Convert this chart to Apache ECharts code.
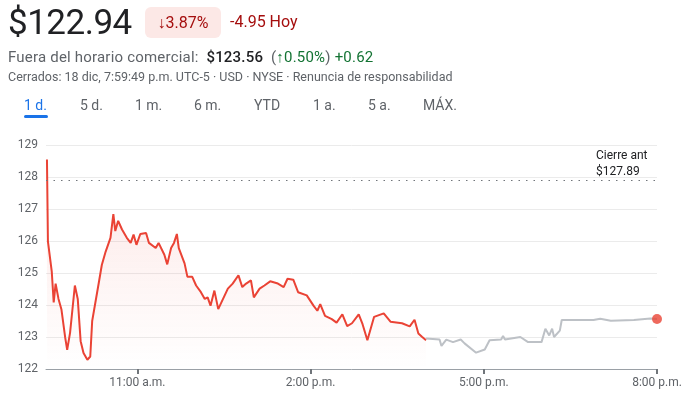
<!DOCTYPE html>
<html><head><meta charset="utf-8">
<script src="https://cdn.jsdelivr.net/npm/echarts@6/dist/echarts.min.js"></script>
<style>
body{margin:0;width:698px;height:410px;font-family:Roboto,Arial,sans-serif;position:relative;overflow:hidden;background:#fff}
#c{position:absolute;left:0;top:0;width:698px;height:410px}
.h{position:absolute;white-space:nowrap}
</style></head><body>
<div id="c"></div>
<div class="h" style="left:8px;top:2px;font-size:35px;color:#202124;letter-spacing:-0.5px">$122.94</div>
<div class="h" style="left:145px;top:7px;width:76px;height:31px;background:#fce8e6;border-radius:6px;color:#a50e0e;font-size:16px;line-height:31px;text-align:center">↓3.87%</div>
<div class="h" style="left:230px;top:12px;font-size:16px;color:#a50e0e">-4.95 Hoy</div>
<div class="h" style="left:8px;top:48px;font-size:15px;color:#5f6368;letter-spacing:0.2px">Fuera del horario comercial:&nbsp; <span style="color:#202124;font-weight:500">$123.56</span>&nbsp; <span style="color:#5f6368">(</span><span style="color:#137333">↑0.50%</span><span style="color:#5f6368">)</span>&nbsp;<span style="color:#137333">+0.62</span></div>
<div class="h" style="left:8px;top:69px;font-size:12.5px;color:#5f6368">Cerrados: 18 dic, 7:59:49 p.m. UTC-5 · USD · NYSE · Renuncia de responsabilidad</div>
<div class="h" style="left:24px;top:97px;font-size:14px;color:#1a73e8">1 d.</div>
<div class="h" style="left:24px;top:115px;width:24px;height:3px;background:#1a73e8;border-radius:2px"></div>
<div class="h" style="left:80px;top:97px;font-size:14px;color:#5f6368">5 d.</div>
<div class="h" style="left:135px;top:97px;font-size:14px;color:#5f6368">1 m.</div>
<div class="h" style="left:194px;top:97px;font-size:14px;color:#5f6368">6 m.</div>
<div class="h" style="left:254px;top:97px;font-size:14px;color:#5f6368">YTD</div>
<div class="h" style="left:313px;top:97px;font-size:14px;color:#5f6368">1 a.</div>
<div class="h" style="left:368px;top:97px;font-size:14px;color:#5f6368">5 a.</div>
<div class="h" style="left:423px;top:97px;font-size:14px;color:#5f6368">MÁX.</div>
<div class="h" style="left:596px;top:147px;font-size:12px;line-height:16px;color:#202124">Cierre ant<br>$127.89</div>
<script>
// minutes since midnight, price
const regularTimes = [566,567,571,573,575,578,581,585,587,590,595,598,601,604,608,611,613,615,620,623,627,632,635,637,640,644,649,653,656,659,663,669,672,679,682,688,691,695,698,701,703,709,712,717,721,726,730,733,736,740,744,749,754,759,765,769,773,778,781,787,792,798,806,812,816,822,827,836,843,847,850,855,862,867,873,878,883,890,894,899,906,916,923,935,943,948,952,956,960];
const regularPrices = [128.55,125.99,125.04,124.08,124.67,124.19,123.87,122.97,122.6,123.13,124.61,124.19,122.87,122.5,122.29,122.39,123.5,123.45,124.72,125.25,125.67,126.1,126.84,126.31,126.63,126.36,126.1,125.94,126.2,125.88,126.22,126.25,125.94,125.78,125.94,125.57,125.27,125.78,125.94,126.22,125.78,125.3,124.88,124.88,124.61,124.4,124.19,124.24,123.98,124.45,123.87,124.19,124.51,124.67,124.93,124.56,124.67,124.77,124.24,124.51,124.61,124.74,124.67,124.56,124.82,124.79,124.4,124.3,123.98,123.82,124.03,123.66,123.56,123.45,123.71,123.34,123.43,123.71,123.40,122.9,123.63,123.74,123.48,123.43,123.33,123.54,123.11,123.0,122.9];
const afterTimes = [960,974,976,981,988,996,1000,1012,1021,1026,1038,1040,1042,1058,1066,1080,1084,1088,1091,1093,1099,1101,1120,1122,1134,1141,1152,1176,1193,1200];
const afterPrices = [122.95,122.92,122.72,122.92,122.84,122.92,122.8,122.51,122.61,122.9,122.92,123.03,122.92,123.0,122.84,122.84,123.26,123.05,123.26,123.0,123.2,123.53,123.53,123.57,123.53,123.57,123.51,123.53,123.58,123.56];
const prevClose = 127.89;
const xTicks = [660,840,1020,1200];
const xTickLabels = ['11:00 a.m.','2:00 p.m.','5:00 p.m.','8:00 p.m.'];

const zip=(a,b)=>a.map((t,i)=>[t,b[i]]);
const chart=echarts.init(document.getElementById('c'));
chart.setOption({
  animation:false,
  grid:{left:46,right:41,top:145,bottom:41},
  xAxis:{type:'value',min:565,max:1200,
    axisLine:{show:true,lineStyle:{color:'#9aa0a6'}},
    axisTick:{show:true,customValues:xTicks,length:5,lineStyle:{color:'#70757a',width:2}},
    axisLabel:{customValues:xTicks,color:'#5f6368',fontSize:12,fontFamily:'Roboto',margin:8,
      formatter:v=>xTickLabels[xTicks.indexOf(v)]},
    splitLine:{show:false}},
  yAxis:{type:'value',min:122,max:129,interval:1,
    axisLabel:{color:'#5f6368',fontSize:12,fontFamily:'Roboto',margin:8},
    axisLine:{show:false},axisTick:{show:false},
    splitLine:{lineStyle:{color:'#ebebeb'}}},
  series:[
    {type:'line',data:zip(regularTimes,regularPrices),showSymbol:false,
     lineStyle:{color:'#ea4335',width:2},
     areaStyle:{origin:'start',color:new echarts.graphic.LinearGradient(0,0,0,1,[{offset:0,color:'rgba(234,67,53,0.18)'},{offset:1,color:'rgba(234,67,53,0.0)'}])},
     markLine:{symbol:'none',silent:true,label:{show:false},
       lineStyle:{color:'#70757a',type:[1.5,6],width:1},data:[{yAxis:prevClose}]}},
    {type:'line',data:zip(afterTimes,afterPrices),showSymbol:false,
     lineStyle:{color:'#bdc1c6',width:2}},
    {type:'scatter',data:[[afterTimes[afterTimes.length-1],afterPrices[afterPrices.length-1]]],
     symbolSize:10,itemStyle:{color:'#ea4335'},z:5}
  ]
});
</script></body></html>
